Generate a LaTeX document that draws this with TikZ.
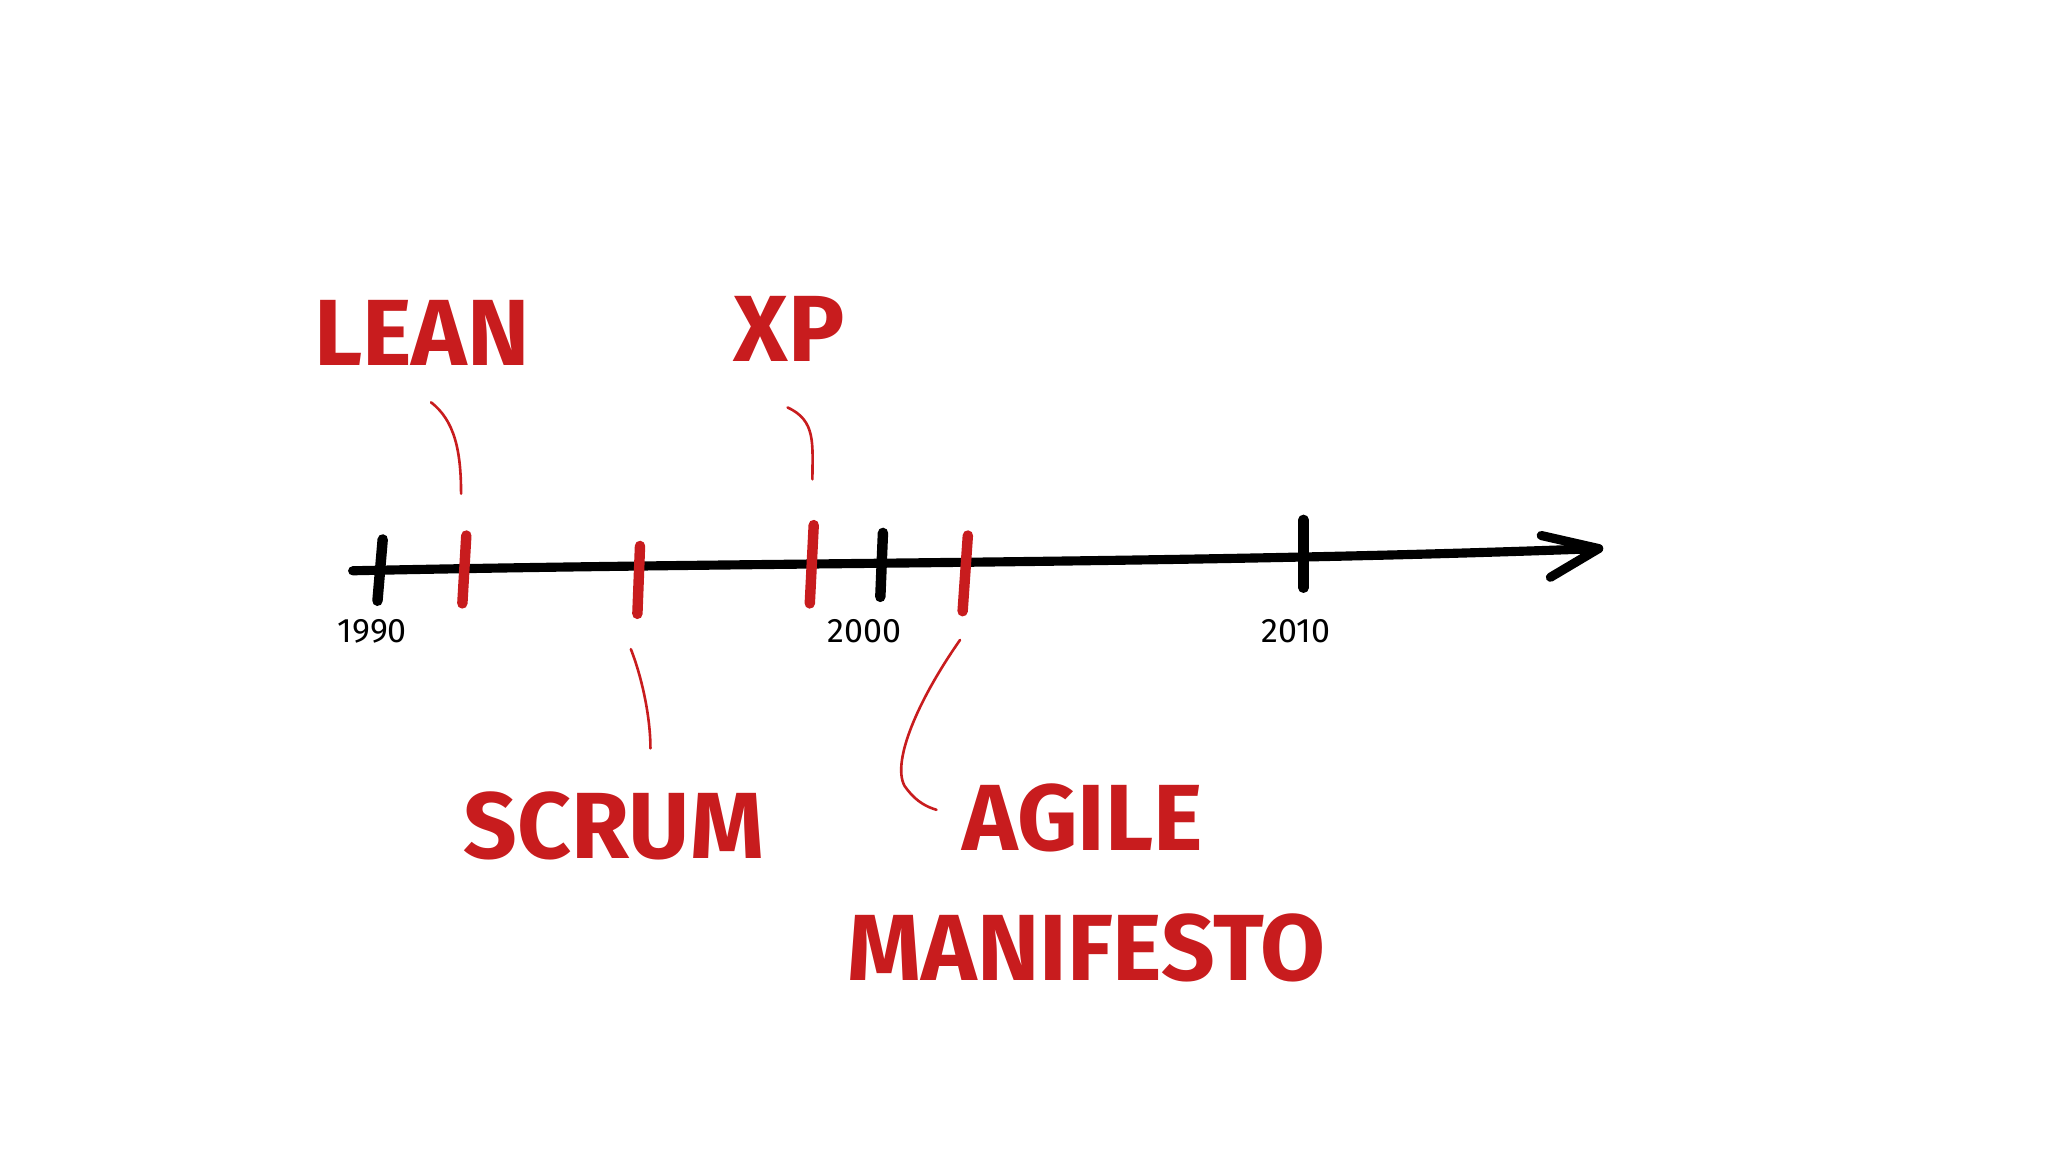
\documentclass[tikz,border=0pt]{standalone}
\usepackage{fontspec}
\setmainfont{Fira Sans}
\definecolor{mred}{RGB}{200,28,30}
\begin{document}
\begin{tikzpicture}[x=1pt,y=-1pt,
  axis/.style={line width=7pt,line cap=round},
  btick/.style={line width=8pt,line cap=round,black},
  rtick/.style={line width=8pt,line cap=round,mred},
  lead/.style={line width=2pt,mred,line cap=round},
  big/.style={mred,font=\fontsize{72}{72}\selectfont\bfseries},
  year/.style={font=\fontsize{26}{26}\selectfont}]
\useasboundingbox (0,0) rectangle (1568,882);
\coordinate (s) at (270,437);
\coordinate (e) at (1224,420);
\draw[axis] (s) .. controls (600,430) and (900,432) .. (e);
\coordinate (h1) at (1180,410);
\coordinate (h2) at (1187,442);
\draw[axis,line join=round] (h1) -- (e) -- (h2);
% black ticks
\coordinate (b1t) at (293,413); \coordinate (b1b) at (289,460);
\coordinate (b2t) at (676,408); \coordinate (b2b) at (674,457);
\coordinate (b3t) at (998,398); \coordinate (b3b) at (998,450);
\draw[btick] (b1t)--(b1b); \draw[btick] (b2t)--(b2b); \draw[btick] (b3t)--(b3b);
% red ticks
\coordinate (r1t) at (357,410); \coordinate (r1b) at (354,462);
\coordinate (r2t) at (490,418); \coordinate (r2b) at (488,470);
\coordinate (r3t) at (623,402); \coordinate (r3b) at (620,462);
\coordinate (r4t) at (741,410); \coordinate (r4b) at (737,468);
\draw[rtick] (r1t)--(r1b); \draw[rtick] (r2t)--(r2b);
\draw[rtick] (r3t)--(r3b); \draw[rtick] (r4t)--(r4b);
% years
\node[year] (y1) at (285,483) {1990};
\node[year] (y2) at (662,483) {2000};
\node[year] (y3) at (992,483) {2010};
% labels
\node[big] (lean) at (323,255) {LEAN};
\node[big] (xp) at (604,252) {XP};
\node[big] (scrum) at (470,632) {SCRUM};
\node[big] (agile) at (829,626) {AGILE};
\node[big] (mani) at (832,726) {MANIFESTO};
% leaders
\coordinate (l1a) at (330,308); \coordinate (l1b) at (353,378);
\draw[lead] (l1a) .. controls (348,322) and (353,345) .. (l1b);
\coordinate (l2a) at (603,312); \coordinate (l2b) at (622,367);
\draw[lead] (l2a) .. controls (625,322) and (622,340) .. (l2b);
\coordinate (l3a) at (483,497); \coordinate (l3b) at (498,573);
\draw[lead] (l3a) .. controls (492,520) and (498,550) .. (l3b);
\coordinate (l4a) at (735,490); \coordinate (l4b) at (717,620);
\draw[lead] (l4a) .. controls (700,540) and (680,590) .. (695,605) .. controls (702,614) and (710,618) .. (l4b);
\end{tikzpicture}
\end{document}
